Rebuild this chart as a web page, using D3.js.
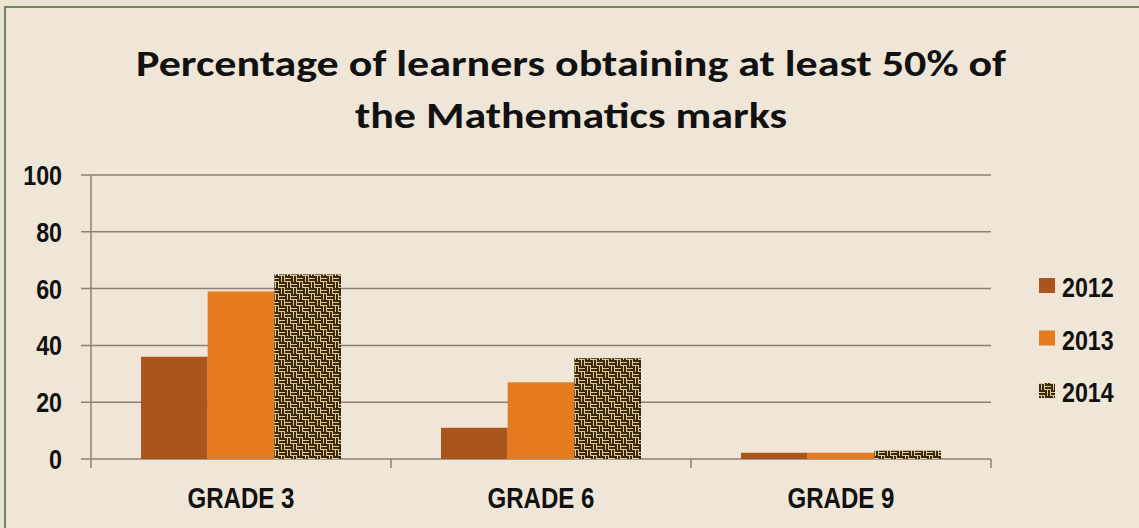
<!DOCTYPE html>
<html>
<head>
<meta charset="utf-8">
<script src="https://cdn.jsdelivr.net/npm/d3@7"></script>
<style>
  body { margin: 0; background: #ede4d4; }
  svg { display: block; }
</style>
</head>
<body>
<div id="chart"></div>
<script>
// data
const grades = ['GRADE 3', 'GRADE 6', 'GRADE 9'];
const years = ['2012', '2013', '2014'];
const v2012 = [36, 11, 2.2];
const v2013 = [59, 27, 2.2];
const v2014 = [65, 35.5, 2.9];
const yTicks = [0, 20, 40, 60, 80, 100];
const titleLines = ['Percentage of learners obtaining at least 50% of', 'the Mathematics marks'];

const series = [v2012, v2013, v2014];
const rows = grades.map((g, i) => ({grade: g, vals: years.map((y, j) => ({year: y, value: series[j][i]}))}));

const width = 1139, height = 528;
const svg = d3.select('#chart').append('svg')
    .attr('width', width)
    .attr('height', height);

// woven texture for 2014
const defs = svg.append('defs');
const pat = defs.append('pattern')
    .attr('id', 'weave')
    .attr('patternUnits', 'userSpaceOnUse')
    .attr('width', 12).attr('height', 12);
pat.append('rect').attr('width', 12).attr('height', 12).attr('fill', '#e3c98a');
const dark = '#3a2910';
[[0,0,6,2],[0,3,6,2],[6,0,2,6],[9,0,2,6],[0,6,2,6],[3,6,2,6],[6,6,6,2],[6,9,6,2]].forEach(r => {
    pat.append('rect').attr('x', r[0]).attr('y', r[1]).attr('width', r[2]).attr('height', r[3]).attr('fill', dark);
});

const colors = {'2012': '#a9551c', '2013': '#e67a1f', '2014': 'url(#weave)'};

// frame
svg.append('rect').attr('x', 5).attr('y', 7).attr('width', width).attr('height', height)
    .attr('fill', '#efe6d7').attr('stroke', '#3f6b3c').attr('stroke-width', 1.5);

// title (stretched a bit wider, like the picture)
const title = svg.append('g')
    .attr('font-family', 'Carlito, "Open Sans", sans-serif')
    .attr('font-weight', 'bold')
    .attr('font-size', 37)
    .attr('fill', '#111')
    .attr('text-anchor', 'middle');
const t1 = title.append('text').attr('x', 571).attr('y', 76).text(titleLines[0]);
const t2 = title.append('text').attr('x', 571).attr('y', 128).text(titleLines[1]);
const k = 870 / t1.node().getComputedTextLength();
[t1, t2].forEach(t => {
    t.attr('textLength', t.node().getComputedTextLength() * k)
     .attr('lengthAdjust', 'spacingAndGlyphs');
});

const x0 = d3.scaleBand()
    .domain(grades)
    .range([91, 991])
    .paddingInner(1 / 3)
    .paddingOuter(1 / 6);
const x1 = d3.scaleBand()
    .domain(years)
    .range([0, x0.bandwidth()]);
const y = d3.scaleLinear()
    .domain([0, 100])
    .range([459, 175]);

const labelFont = '"Liberation Sans", Arial, sans-serif';
// narrow bold look
function narrow(sel) {
    sel.each(function () {
        const w = this.getComputedTextLength();
        d3.select(this).attr('textLength', w * 0.83).attr('lengthAdjust', 'spacingAndGlyphs');
    });
}

// grid lines
svg.append('g')
    .selectAll('line')
    .data(yTicks)
    .enter()
    .append('line')
    .attr('x1', 81)
    .attr('x2', 991)
    .attr('y1', d => y(d))
    .attr('y2', d => y(d))
    .attr('stroke', '#8c8076')
    .attr('stroke-width', 1.5);

// y axis line
svg.append('line')
    .attr('x1', 91).attr('x2', 91)
    .attr('y1', y(100)).attr('y2', y(0))
    .attr('stroke', '#8c8076').attr('stroke-width', 1.5);

// y labels
svg.append('g')
    .selectAll('text')
    .data(yTicks)
    .enter()
    .append('text')
    .attr('x', 62)
    .attr('y', d => y(d))
    .attr('dy', '0.36em')
    .attr('text-anchor', 'end')
    .attr('font-family', labelFont)
    .attr('font-weight', 'bold')
    .attr('font-size', 28)
    .attr('fill', '#111')
    .text(d => d)
    .call(narrow);

// category boundary ticks
const bounds = [91].concat(grades.map(g => x0(g) + x0.bandwidth() + x0.step() * x0.paddingInner() / 2));
svg.append('g')
    .selectAll('line')
    .data(bounds)
    .enter()
    .append('line')
    .attr('x1', d => d).attr('x2', d => d)
    .attr('y1', y(0)).attr('y2', y(0) + 9)
    .attr('stroke', '#8c8076').attr('stroke-width', 1.5);

// bars
const groups = svg.append('g')
    .selectAll('g')
    .data(rows)
    .enter()
    .append('g')
    .attr('transform', d => `translate(${x0(d.grade)},0)`);

groups.selectAll('rect')
    .data(d => d.vals)
    .enter()
    .append('rect')
    .attr('x', d => x1(d.year))
    .attr('y', d => y(d.value))
    .attr('width', x1.bandwidth())
    .attr('height', d => y(0) - y(d.value))
    .attr('fill', d => colors[d.year]);

// x labels
svg.append('g')
    .selectAll('text')
    .data(grades)
    .enter()
    .append('text')
    .attr('x', d => x0(d) + x0.bandwidth() / 2)
    .attr('y', 508)
    .attr('text-anchor', 'middle')
    .attr('font-family', labelFont)
    .attr('font-weight', 'bold')
    .attr('font-size', 29)
    .attr('fill', '#111')
    .text(d => d)
    .call(narrow);

// legend
const legend = svg.append('g')
    .selectAll('g')
    .data(years)
    .enter()
    .append('g')
    .attr('transform', (d, i) => `translate(1039,${297 + i * 52.5})`);
legend.append('rect')
    .attr('x', 0).attr('y', -19)
    .attr('width', 16).attr('height', 15)
    .attr('fill', d => colors[d]);
legend.append('text')
    .attr('x', 23)
    .attr('y', 0)
    .attr('font-family', labelFont)
    .attr('font-weight', 'bold')
    .attr('font-size', 28)
    .attr('fill', '#111')
    .text(d => d)
    .call(narrow);
</script>
</body>
</html>
